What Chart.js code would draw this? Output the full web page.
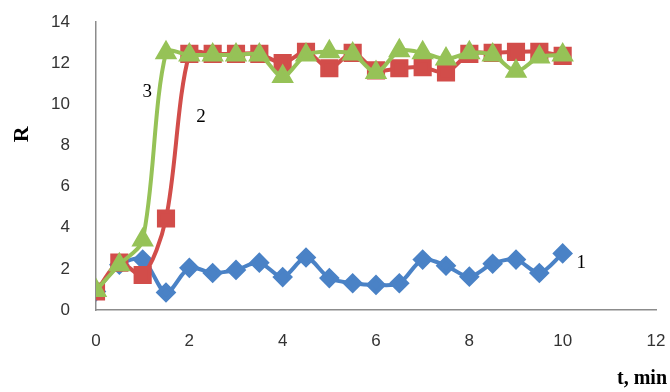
<!DOCTYPE html>
<html>
<head>
<meta charset="utf-8">
<script src="https://cdn.jsdelivr.net/npm/chart.js@4/dist/chart.umd.min.js"></script>
<style>
  html, body { margin: 0; padding: 0; background: #fff; }
  #wrap { width: 670px; height: 392px; }
</style>
</head>
<body>
<div id="wrap"><canvas id="chart"></canvas></div>
<script>
// time, min
let times = [0, 0.5, 1, 1.5, 2, 2.5, 3, 3.5, 4, 4.5, 5, 5.5, 6, 6.5, 7, 7.5, 8, 8.5, 9, 9.5, 10];

// curve 1 (blue diamonds)
let series1 = [0.9, 2.2, 2.45, 0.85, 2.05, 1.8, 1.95, 2.3, 1.6, 2.55, 1.55, 1.3, 1.22, 1.3, 2.45, 2.15, 1.62, 2.25, 2.45, 1.8, 2.75];
// curve 2 (red squares)
let series2 = [0.9, 2.3, 1.7, 4.45, 12.45, 12.45, 12.45, 12.45, 12.0, 12.55, 11.75, 12.5, 11.65, 11.75, 11.8, 11.55, 12.45, 12.5, 12.55, 12.55, 12.35];
// curve 3 (green triangles)
let series3 = [0.95, 2.2, 3.4, 12.5, 12.4, 12.4, 12.4, 12.4, 11.35, 12.4, 12.55, 12.45, 11.55, 12.6, 12.5, 12.2, 12.5, 12.4, 11.6, 12.3, 12.4];

let xTicks = [0, 2, 4, 6, 8, 10, 12];
let yTicks = [0, 2, 4, 6, 8, 10, 12, 14];

// curve numbers written next to the lines, anchored in data units
let curveLabels = [
  { text: "1", t: 10.4, r: 2.3 },
  { text: "2", t: 2.25, r: 9.4 },
  { text: "3", t: 1.1, r: 10.6 }
];

function toPoints(vals) {
  return times.map((t, i) => ({ x: t, y: vals[i] }));
}

const curveNumbers = {
  id: "curveNumbers",
  afterDatasetsDraw(chart) {
    let ctx = chart.ctx;
    let xs = chart.scales.x, ys = chart.scales.y;
    ctx.save();
    ctx.font = "19px 'Liberation Serif'";
    ctx.fillStyle = "#000";
    ctx.textAlign = "center";
    ctx.textBaseline = "middle";
    curveLabels.forEach(l => {
      ctx.fillText(l.text, xs.getPixelForValue(l.t), ys.getPixelForValue(l.r));
    });
    // x axis title, pushed to the right edge like the original
    ctx.font = "bold 20px 'Liberation Serif'";
    ctx.textAlign = "right";
    ctx.fillText("t, min", 667, 379);
    // y axis title, sits a bit above the middle
    let a = chart.chartArea;
    ctx.translate(22, a.top + (a.bottom - a.top) * 0.39);
    ctx.rotate(-Math.PI / 2);
    ctx.textAlign = "center";
    ctx.font = "bold 22px 'Liberation Serif'";
    ctx.fillText("R", 0, 0);
    ctx.restore();
  }
};

new Chart(document.getElementById("chart"), {
  type: "line",
  data: {
    datasets: [
      {
        label: "1",
        data: toPoints(series1),
        borderColor: "#4A82C6",
        backgroundColor: "#4A82C6",
        borderWidth: 4,
        pointStyle: "rectRot",
        pointRadius: 7.5,
        tension: 0.3,
        order: 3
      },
      {
        label: "2",
        data: toPoints(series2),
        borderColor: "#D24D4A",
        backgroundColor: "#D24D4A",
        borderWidth: 4,
        pointStyle: "rect",
        pointRadius: 10,
        tension: 0.3,
        order: 2
      },
      {
        label: "3",
        data: toPoints(series3),
        borderColor: "#96C257",
        backgroundColor: "#96C257",
        borderWidth: 4,
        pointStyle: "triangle",
        pointRadius: 9,
        tension: 0.3,
        order: 1
      }
    ]
  },
  options: {
    responsive: true,
    maintainAspectRatio: false,
    animation: false,
    layout: { padding: { top: 22, right: 13, left: 0, bottom: 0 } },
    plugins: {
      legend: { display: false },
      tooltip: { enabled: false }
    },
    scales: {
      x: {
        type: "linear",
        min: 0,
        max: 12,
        afterBuildTicks: s => { s.ticks = xTicks.map(v => ({ value: v })); },
        afterFit: s => { s.height = 82; s.paddingRight = 0; s.paddingLeft = 0; },
        grid: { display: false, drawTicks: false },
        border: { color: "#8c8c8c", width: 1.5 },
        ticks: { padding: 21, color: "#333", font: { family: "Liberation Sans", size: 17 } }
      },
      y: {
        min: 0,
        max: 14,
        afterBuildTicks: s => { s.ticks = yTicks.map(v => ({ value: v })); },
        afterFit: s => { s.width = 96; s.paddingTop = 0; s.paddingBottom = 0; },
        grid: { display: false, drawTicks: false },
        border: { color: "#8c8c8c", width: 1.5 },
        ticks: { padding: 26, color: "#333", font: { family: "Liberation Sans", size: 17 } }
      }
    }
  },
  plugins: [curveNumbers]
});
</script>
</body>
</html>
